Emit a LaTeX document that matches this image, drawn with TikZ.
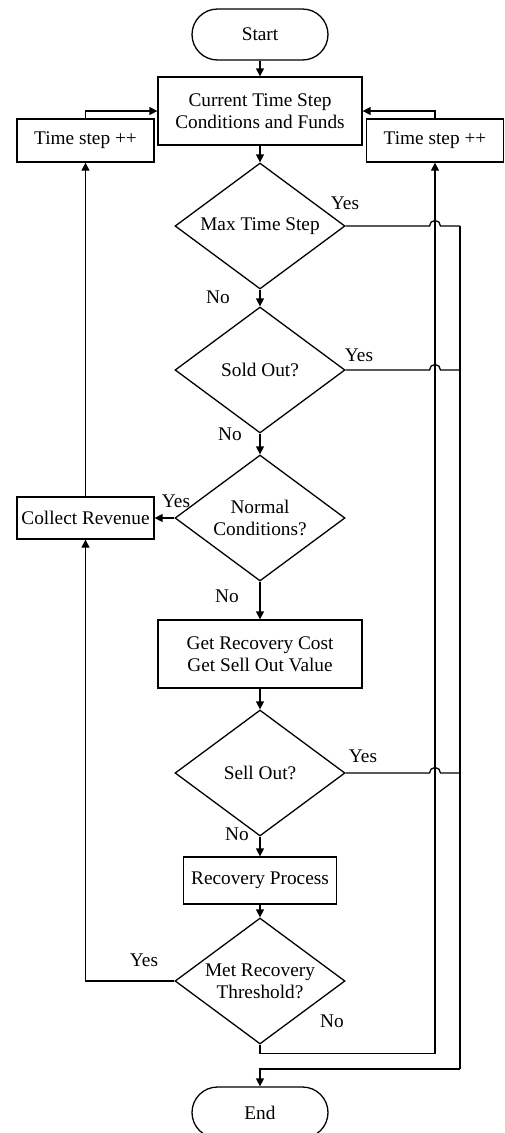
\documentclass[tikz,border=0pt]{standalone}
\usepackage{fontspec}
\setmainfont{Liberation Serif}
\usetikzlibrary{shapes.geometric,shapes.misc,arrows.meta}
\begin{document}
\begin{tikzpicture}[x=1pt,y=-1pt,
  every node/.style={font=\fontsize{19.3}{22}\selectfont, align=center, inner sep=0pt},
  line/.style={line width=1.3pt},
  arr/.style={line width=1.3pt,-{Triangle[length=8pt,width=8pt]}},
  term/.style={draw, line width=1.3pt, rounded rectangle, minimum width=136pt, minimum height=51pt},
  boxn/.style={draw, line width=1.3pt, rectangle},
  dec/.style={draw, line width=1.3pt, diamond, aspect=1.35, minimum width=170pt, minimum height=126pt},
  lbl/.style={font=\fontsize{19.3}{22}\selectfont}
]
\useasboundingbox (0,0) rectangle (505,1133);

\node[term] (start) at (260,34.5) {Start};
\node[boxn, minimum width=204pt, minimum height=68pt] (cur) at (260,111) {Current Time Step\\Conditions and Funds};
\node[boxn, minimum width=137pt, minimum height=43pt] (lts) at (85.5,140.5) {Time step ++};
\node[boxn, minimum width=137pt, minimum height=43pt] (rts) at (435,140.5) {Time step ++};
\node[dec] (max) at (260,226) {Max Time Step};
\node[dec] (sold) at (260,370) {Sold Out?};
\node[dec] (normal) at (260,518) {Normal\\Conditions?};
\node[boxn, minimum width=137pt, minimum height=42pt] (crev) at (85.5,518) {Collect Revenue};
\node[boxn, minimum width=204pt, minimum height=68pt] (getc) at (260,654) {Get Recovery Cost\\Get Sell Out Value};
\node[dec] (sell) at (260,773) {Sell Out?};
\node[boxn, minimum width=153pt, minimum height=47pt] (recp) at (260,880.5) {Recovery Process};
\node[dec] (met) at (260,981) {Met Recovery\\Threshold?};
\node[term] (end) at (260,1112.5) {End};

\coordinate (busTop) at (460,226);
\coordinate (busBot) at (460,1069);

% main flow
\draw[arr] (start.south) -- (cur.north);
\draw[arr] (cur.south) -- (max.north);
\draw[arr] (max.south) -- (sold.north);
\draw[arr] (sold.south) -- (normal.north);
\draw[arr] (normal.south) -- (getc.north);
\draw[arr] (getc.south) -- (sell.north);
\draw[arr] (sell.south) -- (recp.north);
\draw[arr] (recp.south) -- (met.north);

% left loop
\draw[arr] (normal.west) -- (crev.east);
\draw[arr] (crev.north) -- (lts.south);
\draw[arr] (met.west) -| (crev.south);
\draw[arr] (lts.north) |- (cur.west);

% right loop
\draw[arr] (met.south) -- ++(0,9) -| (rts.south);
\draw[arr] (rts.north) |- (cur.east);

% yes lines to end bus
\draw[line] (max.east) -- ([xshift=-5.5pt]max.east -| rts.south) arc[start angle=180,end angle=0,radius=5.5pt] -- (busTop);
\draw[line] (sold.east) -- ([xshift=-5.5pt]sold.east -| rts.south) arc[start angle=180,end angle=0,radius=5.5pt] -- (sold.east -| busTop);
\draw[line] (sell.east) -- ([xshift=-5.5pt]sell.east -| rts.south) arc[start angle=180,end angle=0,radius=5.5pt] -- (sell.east -| busTop);
\draw[line] (busTop) -- (busBot);
\draw[arr] (busBot) -| (end.north);

% labels
\node[lbl] (y1) at (345,203) {Yes};
\node[lbl] (n1) at (218,297) {No};
\node[lbl] (y2) at (359,355) {Yes};
\node[lbl] (n2) at (230,434) {No};
\node[lbl] (y3) at (176,501) {Yes};
\node[lbl] (n3) at (227,596) {No};
\node[lbl] (y4) at (363,756) {Yes};
\node[lbl] (n4) at (237,834) {No};
\node[lbl] (y5) at (144,960) {Yes};
\node[lbl] (n5) at (332,1021) {No};
\end{tikzpicture}
\end{document}
